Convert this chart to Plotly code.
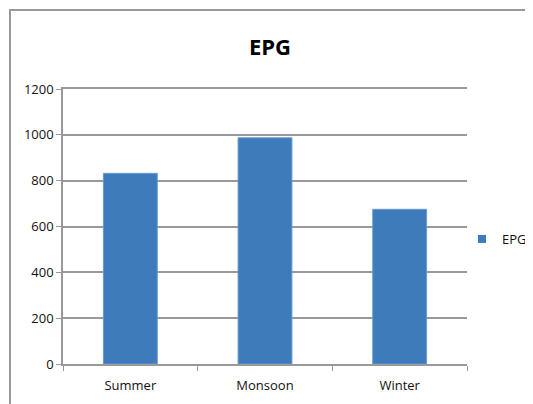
import plotly.graph_objects as go

categories = ["Summer", "Monsoon", "Winter"]
epg_values = [832, 987, 675]
y_ticks = [0, 200, 400, 600, 800, 1000, 1200]

# page body has an 8px default margin; work in figure pixels
OFF = 8
W, H = 533 - OFF, 404 - OFF
L, R, T, B = 63 - OFF, 467 - OFF, 89 - OFF, 364 - OFF
BAR = "#3D7BBB"

fig = go.Figure()
fig.add_trace(go.Bar(
    x=categories, y=epg_values, name="EPG", showlegend=False,
    marker=dict(color=BAR, line=dict(color="#6A9AD0", width=1)),
))
fig.add_trace(go.Scatter(
    x=[None], y=[None], mode="markers", name="EPG",
    marker=dict(symbol="square", size=8, color=BAR),
))

def px_x(x):
    return (x - OFF - L) / (R - L)

def px_y(y):
    return (B - (y - OFF)) / (B - T)

fig.update_layout(
    width=W, height=H,
    margin=dict(l=L, r=W - R, t=T, b=H - B, autoexpand=False),
    paper_bgcolor="white", plot_bgcolor="white",
    bargap=0.6,
    showlegend=True,
    font=dict(family="Open Sans, Noto Sans, sans-serif", size=13, color="#111"),
    title=dict(text="<b>EPG</b>", x=(270 - OFF) / W, xanchor="center",
               y=1 - (47 - OFF) / H, yanchor="middle",
               font=dict(size=22, color="#000", family="Open Sans, Noto Sans, sans-serif")),
    legend=dict(x=px_x(462), y=px_y(239), xanchor="left", yanchor="middle",
                font=dict(size=13, color="#111"), itemwidth=30, bgcolor="rgba(0,0,0,0)"),
    xaxis=dict(type="category", showline=True, mirror=True, linecolor="#999", linewidth=1.5,
               ticks="outside", tickson="boundaries", ticklen=5, tickcolor="#999",
               ticklabelstandoff=9,
               showgrid=False, tickfont=dict(size=13, color="#111")),
    yaxis=dict(range=[0, 1200], tickvals=y_ticks, showline=True, linecolor="#999",
               linewidth=1.5, ticks="outside", ticklen=5, tickcolor="#999",
               showgrid=True, gridcolor="#999", gridwidth=1.5, zeroline=False,
               tickfont=dict(size=13, color="#111")),
    shapes=[dict(type="rect", xref="paper", yref="paper",
                 x0=px_x(10), x1=px_x(560), y0=px_y(430), y1=px_y(10),
                 line=dict(color="#999", width=2), fillcolor="rgba(0,0,0,0)", layer="below")],
)

fig.write_html("out.html")
